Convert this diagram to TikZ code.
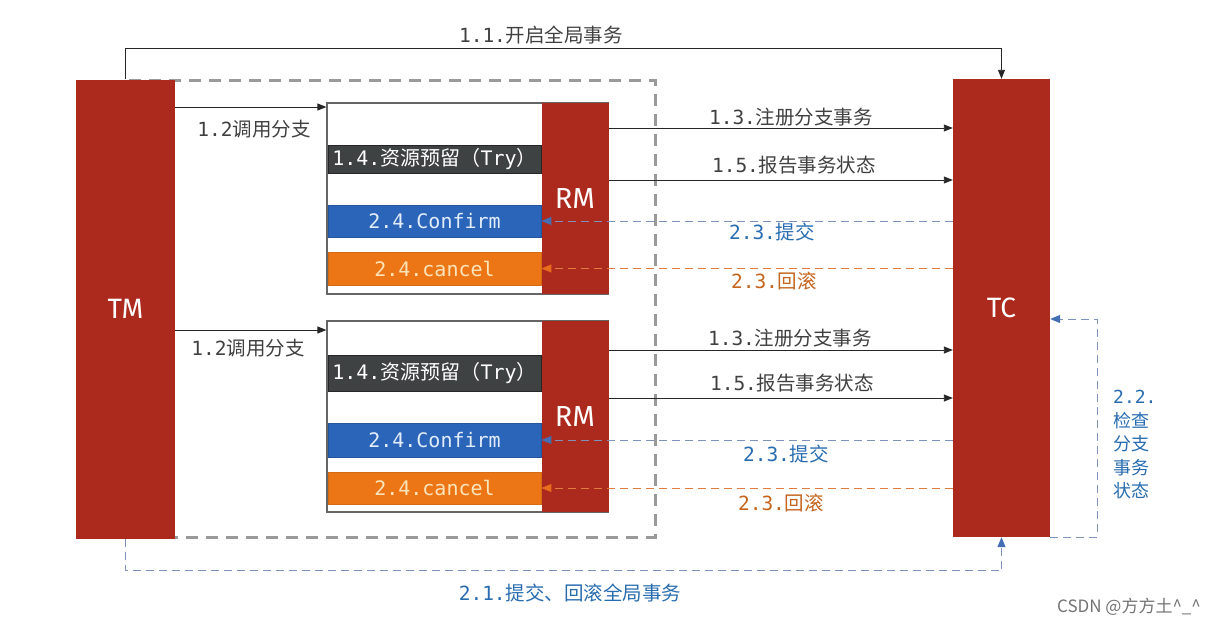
\documentclass[tikz,border=0pt]{standalone}
\usepackage{fontspec}
\usetikzlibrary{arrows.meta}
\newfontfamily\cjk{Noto Sans CJK SC}
\newfontfamily\mono{DejaVu Sans Mono}
\newfontfamily\headfont{Fira Sans}
\definecolor{barred}{RGB}{172,41,29}
\definecolor{trygray}{RGB}{62,66,67}
\definecolor{confblue}{RGB}{43,101,185}
\definecolor{conftext}{RGB}{226,236,250}
\definecolor{cancorange}{RGB}{236,118,22}
\definecolor{canctext}{RGB}{252,228,186}
\definecolor{notegray}{RGB}{64,64,64}
\definecolor{noteblue}{RGB}{40,108,176}
\definecolor{noteorange}{RGB}{196,100,30}
\definecolor{dashblue}{RGB}{126,146,186}
\definecolor{tipblue}{RGB}{68,110,180}
\definecolor{dashorange}{RGB}{226,124,62}
\definecolor{tiporange}{RGB}{232,110,30}
\newcommand{\mix}[2]{{\mono #1}{\cjk #2}}

\begin{document}
\begin{tikzpicture}[x=1pt,y=-1pt,
    bar/.style={fill=barred,draw=none,text=white,inner sep=0pt,
        font=\headfont\fontsize{28}{30}\selectfont},
    branchbox/.style={draw=black!60,fill=white,line width=1.2pt,inner sep=0pt},
    stepbox/.style={inner sep=0pt,minimum width=213,line width=0.8pt,
        font=\fontsize{20}{22}\selectfont},
    call/.style={-{Triangle[length=9pt,width=7pt]},line width=0.9pt,draw=black!85},
    commit/.style={-{Triangle[length=10pt,width=8pt,color=tipblue]},draw=dashblue,
        line width=1pt,dash pattern=on 8pt off 5pt},
    rollback/.style={-{Triangle[length=10pt,width=8pt,color=tiporange]},draw=dashorange,
        line width=1pt,dash pattern=on 8pt off 5pt},
    note/.style={inner sep=0pt,text=notegray,font=\fontsize{19.5}{21}\selectfont}]
    \useasboundingbox (0,0) rectangle (1229,627);

    % group of the two branches
    \node[draw=black!40,line width=3pt,dash pattern=on 12pt off 8pt,
        minimum width=529,minimum height=457,inner sep=0pt] (grp) at (390.5,308.5) {};

    \node[bar,minimum width=99,minimum height=459] (tm) at (125.5,309) {TM};
    \node[bar,minimum width=97,minimum height=458] (tc) at (1001.5,308) {TC};

    % branch A
    \node[branchbox,minimum width=281,minimum height=191] (boxA) at (467.5,198.5) {};
    \node[bar,minimum width=67,minimum height=191,
        font=\headfont\fontsize{29}{30}\selectfont] (rmA) at (575,198.5) {RM};
    \node[stepbox,fill=trygray,draw=black!85,text=white,minimum height=28] (tryA) at (434.5,159.5)
        {\mix{1.4.}{资源预留（}\mix{Try}{）}};
    \node[stepbox,fill=confblue,draw=confblue!85!black,text=conftext,minimum height=32] (confA) at (434.5,221)
        {\mono 2.4.Confirm};
    \node[stepbox,fill=cancorange,draw=cancorange!90!black,text=canctext,minimum height=33] (cancA) at (434.5,268.5)
        {\mono 2.4.cancel};

    % branch B
    \node[branchbox,minimum width=281,minimum height=191] (boxB) at (467.5,416.5) {};
    \node[bar,minimum width=67,minimum height=191,
        font=\headfont\fontsize{29}{30}\selectfont] (rmB) at (575,416.5) {RM};
    \node[stepbox,fill=trygray,draw=black!85,text=white,minimum height=36] (tryB) at (434.5,373)
        {\mix{1.4.}{资源预留（}\mix{Try}{）}};
    \node[stepbox,fill=confblue,draw=confblue!85!black,text=conftext,minimum height=34] (confB) at (434.5,440)
        {\mono 2.4.Confirm};
    \node[stepbox,fill=cancorange,draw=cancorange!90!black,text=canctext,minimum height=32] (cancB) at (434.5,488)
        {\mono 2.4.cancel};

    % global transaction
    \draw[call] (tm.north) -- ++(0,-31) -| (tc.north);
    \node[note] (open) at (541,35) {\mix{1.1.}{开启全局事务}};
    \draw[commit] (tm.south) -- ++(0,32) -| (tc.south);
    \node[note,text=noteblue] (finish) at (570,593) {\mix{2.1.}{提交、回滚全局事务}};
    \draw[commit] (tc.south east) -- ++(47,0) |- (tc.east |- 0,319);
    \node[note,text=noteblue,align=left,anchor=west,font=\fontsize{18}{23.5}\selectfont] (check) at (1113,445)
        {\mono 2.2.\\\cjk 检查\\\cjk 分支\\\cjk 事务\\\cjk 状态};

    % calls to branch A
    \draw[call] (tm.east |- 0,107) -- (boxA.west |- 0,107);
    \node[note] (callA) at (254,129) {\mix{1.2}{调用分支}};
    \draw[call] (rmA.east |- 0,128) -- (tc.west |- 0,128);
    \node[note] (regA) at (791,117) {\mix{1.3.}{注册分支事务}};
    \draw[call] (rmA.east |- 0,180) -- (tc.west |- 0,180);
    \node[note] (repA) at (794,165) {\mix{1.5.}{报告事务状态}};
    \draw[commit] (tc.west |- confA) -- (confA.east);
    \node[note,text=noteblue] (okA) at (772,232) {\mix{2.3.}{提交}};
    \draw[rollback] (tc.west |- cancA) -- (cancA.east);
    \node[note,text=noteorange] (backA) at (774,281) {\mix{2.3.}{回滚}};

    % calls to branch B
    \draw[call] (tm.east |- 0,330) -- (boxB.west |- 0,330);
    \node[note] (callB) at (248,348) {\mix{1.2}{调用分支}};
    \draw[call] (rmB.east |- 0,350) -- (tc.west |- 0,350);
    \node[note] (regB) at (790,338) {\mix{1.3.}{注册分支事务}};
    \draw[call] (rmB.east |- 0,398) -- (tc.west |- 0,398);
    \node[note] (repB) at (792,383) {\mix{1.5.}{报告事务状态}};
    \draw[commit] (tc.west |- confB) -- (confB.east);
    \node[note,text=noteblue] (okB) at (786,454) {\mix{2.3.}{提交}};
    \draw[rollback] (tc.west |- cancB) -- (cancB.east);
    \node[note,text=noteorange] (backB) at (781,503) {\mix{2.3.}{回滚}};

    \node[inner sep=0pt,text=black!55,font=\cjk\fontsize{17}{18}\selectfont] (mark) at (1129,607)
        {CSDN @方方土\textasciicircum\_\textasciicircum};
\end{tikzpicture}
\end{document}
